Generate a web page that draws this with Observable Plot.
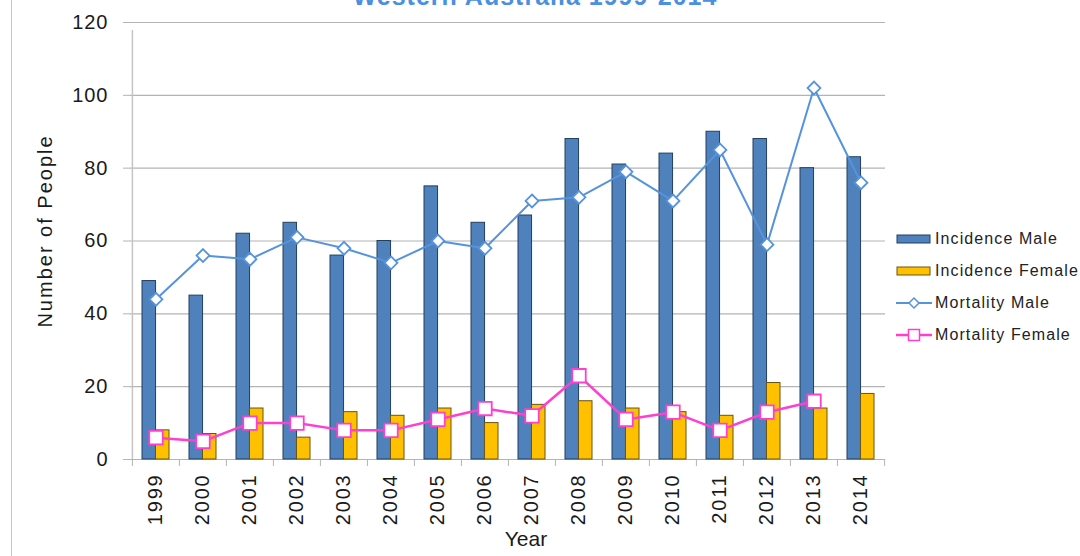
<!DOCTYPE html>
<html>
<head>
<meta charset="utf-8">
<script src="https://cdn.jsdelivr.net/npm/d3@7"></script>
<script src="https://cdn.jsdelivr.net/npm/@observablehq/plot@0.6"></script>
<style>
  html, body { margin: 0; padding: 0; background: #fff; }
  #wrap { position: relative; width: 1080px; height: 556px; overflow: hidden; font-family: "Liberation Sans", Arial, sans-serif; }
  #border { position: absolute; left: 11px; top: 0; width: 0; height: 556px; border-left: 1px solid #c8c8c8; }
  #title { position: absolute; left: 0; width: 1070px; text-align: center; top: -16px; font-size: 25px; line-height: 25px; font-weight: bold; color: #4a8fe0; letter-spacing: 1px; white-space: nowrap; }
  #legend { position: absolute; left: 896px; top: 223px; font-size: 16px; color: #222; letter-spacing: 1.1px; }
  #legend .row { height: 32px; display: flex; align-items: center; }
  #legend svg { margin-right: 3px; flex: none; }
</style>
</head>
<body>
<div id="wrap">
  <div id="border"></div>
  <div id="chart"></div>
  <div id="title">Western Australia 1999-2014</div>
  <div id="legend"></div>
</div>
<script>
const years = ["1999","2000","2001","2002","2003","2004","2005","2006","2007","2008","2009","2010","2011","2012","2013","2014"];
const incidenceMale   = [49, 45, 62, 65, 56, 60, 75, 65, 67, 88, 81, 84, 90, 88, 80, 83];
const incidenceFemale = [8, 7, 14, 6, 13, 12, 14, 10, 15, 16, 14, 13, 12, 21, 14, 18];
const mortalityMale   = [44, 56, 55, 61, 58, 54, 60, 58, 71, 72, 79, 71, 85, 59, 102, 76];
const mortalityFemale = [6, 5, 10, 10, 8, 8, 11, 14, 12, 23, 11, 13, 8, 13, 16, null];
const yTicks = [0, 20, 40, 60, 80, 100, 120];
const seriesNames = ["Incidence Male", "Incidence Female", "Mortality Male", "Mortality Female"];

const C = {
  incM: "#4f81bd", incMStroke: "#233f5e",
  incF: "#ffc000", incFStroke: "#6a5410",
  mortM: "#5593dd", mortF: "#ff3fcf"
};

const rows = years.map((y, i) => ({
  year: y, incM: incidenceMale[i], incF: incidenceFemale[i], mortM: mortalityMale[i], mortF: mortalityFemale[i]
}));
const mortFRows = rows.filter(d => d.mortF != null);

const W = 1080, H = 556, ML = 130, MR = 195, MT = 22, MB = 97;
const step = (W - ML - MR) / years.length;
const pad = 0.43;
const half = step * (1 - pad) / 2;

const chart = Plot.plot({
  width: W, height: H,
  marginLeft: ML, marginRight: MR, marginTop: MT, marginBottom: MB,
  style: { fontFamily: "'Liberation Sans', Arial, sans-serif", background: "transparent" },
  x: { type: "band", domain: years, paddingInner: pad, paddingOuter: pad / 2, axis: null },
  y: { domain: [0, 120], axis: null },
  marks: [
    Plot.gridY(yTicks, { stroke: "#b4b4b4", strokeOpacity: 1, strokeWidth: 1.2 }),
    Plot.axisY(yTicks, { tickSize: 7, tickPadding: 15, stroke: "#b4b4b4", fill: "#1a1a1a", fontSize: 20, label: null }),
    // y axis line
    Plot.ruleX([years[0]], { x: d => d, dx: -step / 2, y1: 0, y2: 120, insetBottom: -8, stroke: "#c4c4c4", strokeWidth: 1.5 }),
    // x axis baseline
    Plot.ruleY([0], { stroke: "#b4b4b4", strokeWidth: 1.2 }),
    // x category boundary ticks
    Plot.ruleX(years, { x: d => d, dx: -step / 2, y1: 0, y2: 0, insetBottom: -7, stroke: "#b4b4b4" }),
    Plot.ruleX([years[years.length - 1]], { x: d => d, dx: step / 2, y1: 0, y2: 0, insetBottom: -7, stroke: "#b4b4b4" }),
    Plot.axisX({ tickSize: 0, tickRotate: -90, tickPadding: 14, fontSize: 20, fill: "#1a1a1a", label: null }),
    Plot.barY(rows, { x: "year", y: "incM", insetRight: half, fill: C.incM, stroke: C.incMStroke, strokeWidth: 1 }),
    Plot.barY(rows, { x: "year", y: "incF", insetLeft: half, fill: C.incF, stroke: C.incFStroke, strokeWidth: 1 }),
    Plot.line(rows, { x: "year", y: "mortM", stroke: C.mortM, strokeWidth: 2 }),
    Plot.dot(rows, { x: "year", y: "mortM", symbol: "diamond2", r: 5.8, fill: "white", stroke: C.mortM, strokeWidth: 1.8 }),
    Plot.line(mortFRows, { x: "year", y: "mortF", stroke: C.mortF, strokeWidth: 2.5 }),
    Plot.dot(mortFRows, { x: "year", y: "mortF", symbol: "square", r: 7.6, fill: "white", stroke: C.mortF, strokeWidth: 1.8 }),
    Plot.text(["Number of People"], { text: d => d, frameAnchor: "left", textAnchor: "middle", rotate: -90, dx: -85, dy: -10, fontSize: 20, fill: "#1a1a1a" }),
    Plot.text(["Year"], { text: d => d, frameAnchor: "bottom", dy: 86, dx: 18, fontSize: 21, fill: "#1a1a1a" })
  ]
});
document.getElementById("chart").appendChild(chart);

// letter spacing to match the wider lettering of the reference
const svg = d3.select(chart);
svg.selectAll('g[aria-label="x-axis tick label"] text').style("letter-spacing", "1.8px");
svg.selectAll('g[aria-label="y-axis tick label"] text').style("letter-spacing", "1px");
svg.selectAll('g[aria-label="text"] text').each(function () {
  const t = this.textContent;
  d3.select(this).style("letter-spacing", t === "Year" ? "0px" : "2px");
});

// Legend
const legend = document.getElementById("legend");
const swatches = [
  `<svg width="36" height="14"><rect x="1" y="3" width="33" height="8" fill="${C.incM}" stroke="${C.incMStroke}" stroke-width="1"/></svg>`,
  `<svg width="36" height="14"><rect x="1" y="3" width="33" height="8" fill="${C.incF}" stroke="${C.incFStroke}" stroke-width="1"/></svg>`,
  `<svg width="36" height="14"><line x1="0" x2="36" y1="7" y2="7" stroke="${C.mortM}" stroke-width="2"/><path d="M18,2 L23,7 L18,12 L13,7 Z" fill="white" stroke="${C.mortM}" stroke-width="1.5"/></svg>`,
  `<svg width="36" height="14"><line x1="0" x2="36" y1="7" y2="7" stroke="${C.mortF}" stroke-width="2.5"/><rect x="12.5" y="1.5" width="11" height="11" fill="white" stroke="${C.mortF}" stroke-width="1.5"/></svg>`
];
seriesNames.forEach((name, i) => {
  const row = document.createElement("div");
  row.className = "row";
  row.innerHTML = swatches[i];
  const span = document.createElement("span");
  span.textContent = name;
  row.appendChild(span);
  legend.appendChild(row);
});
</script>
</body>
</html>
